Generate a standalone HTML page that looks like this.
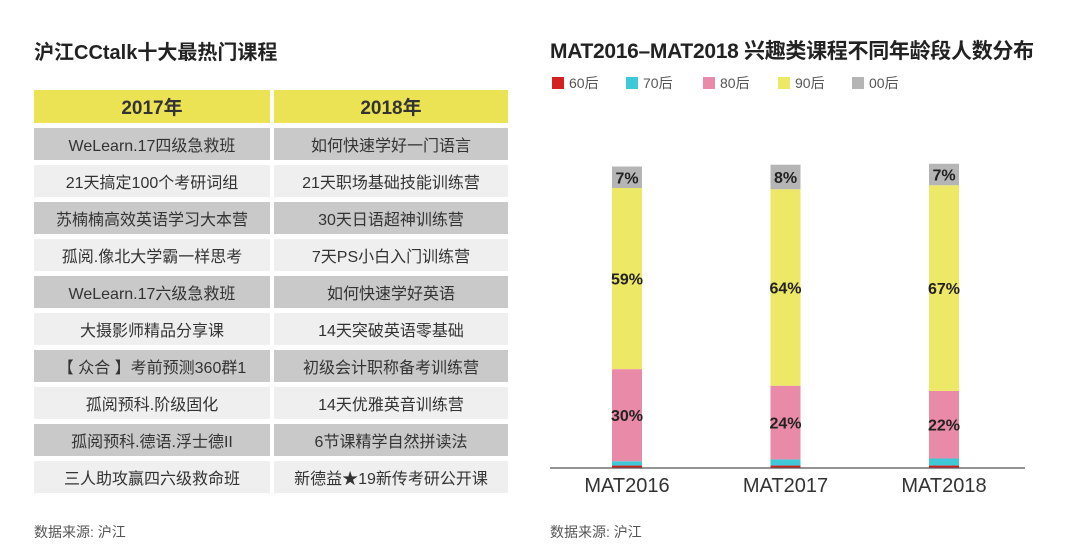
<!DOCTYPE html>
<html><head><meta charset="utf-8"><style>
body{margin:0;width:1080px;height:560px;background:#fff;font-family:"Liberation Sans","Noto Sans CJK SC",sans-serif;overflow:hidden;position:relative;color:#222}
.t{position:absolute;font-size:20px;font-weight:bold;white-space:nowrap}
.cell{position:absolute;display:flex;align-items:center;justify-content:center;font-size:16px;color:#333}
.src{position:absolute;font-size:14px;color:#555}
</style></head><body>
<div class="t" style="left:34px;top:36px">沪江CCtalk十大最热门课程</div>
<div class="t" style="left:550px;top:35px;font-size:21px;letter-spacing:-0.3px">MAT2016–MAT2018 兴趣类课程不同年龄段人数分布</div>
<div id="table"></div>
<div class="src" style="left:34px;top:522px">数据来源: 沪江</div>
<div class="src" style="left:550px;top:522px">数据来源: 沪江</div>
<svg id="chart" width="1080" height="560" style="position:absolute;left:0;top:0"></svg>
<script>
const col2017=["WeLearn.17四级急救班","21天搞定100个考研词组","苏楠楠高效英语学习大本营","孤阅.像北大学霸一样思考","WeLearn.17六级急救班","大摄影师精品分享课","【 众合 】考前预测360群1","孤阅预科.阶级固化","孤阅预科.德语.浮士德II","三人助攻赢四六级救命班"];
const col2018=["如何快速学好一门语言","21天职场基础技能训练营","30天日语超神训练营","7天PS小白入门训练营","如何快速学好英语","14天突破英语零基础","初级会计职称备考训练营","14天优雅英音训练营","6节课精学自然拼读法","新德益★19新传考研公开课"];
const tb=document.getElementById('table');
function cell(x,y,w,h,bg,txt,fs,fw){const d=document.createElement('div');d.className='cell';


d.style.cssText=`left:${x}px;top:${y}px;width:${w}px;height:${h}px;background:${bg};font-size:${fs}px;font-weight:${fw}`;d.textContent=txt;tb.appendChild(d);}
cell(34,90,236,33,'#ebe254','2017年',19,'bold');cell(274,90,234,33,'#ebe254','2018年',19,'bold');
for(let i=0;i<10;i++){const y=128+i*37,bg=i%2==0?'#c9c9c9':'#efefef';cell(34,y,236,32,bg,col2017[i],16,'normal');cell(274,y,234,32,bg,col2018[i],16,'normal');}

const categories=["MAT2016","MAT2017","MAT2018"];
const seriesNames=["60后","70后","80后","90后","00后"];
const colors=["#d42020","#3ec8d8","#e98aa8","#ede866","#b5b5b5"];
const s60=[0.8,0.8,0.8];
const s70=[1.4,2.0,2.3];
const s80=[30,24,22];
const s90=[59,64,67];
const s00=[7,8,7];
const labels80=["30%","24%","22%"],labels90=["59%","64%","67%"],labels00=["7%","8%","7%"];
const svg=document.getElementById('chart');const NS='http://www.w3.org/2000/svg';
function el(t,a){const e=document.createElementNS(NS,t);for(const k in a)e.setAttribute(k,a[k]);svg.appendChild(e);return e;}
const base=468,pxPer=3.07;
const y=v=>base-v*pxPer;
const xc=i=>627+i*158.5;
const series=[s60,s70,s80,s90,s00];const lbls=[null,null,labels80,labels90,labels00];
categories.forEach((c,i)=>{let acc=0;
 series.forEach((s,k)=>{const v=s[i];const r=el('rect',{x:xc(i)-15,y:y(acc+v),width:30,height:v*pxPer,fill:colors[k]});
 
 
 if(lbls[k]){const t=el('text',{x:xc(i),y:y(acc+v/2)+6,'text-anchor':'middle','font-size':16,'font-weight':'bold',fill:'#222'});t.textContent=lbls[k][i];
 
 }
 acc+=v;});
 const t=el('text',{x:xc(i),y:492,'text-anchor':'middle','font-size':20,fill:'#333'});t.textContent=c;
 
 
});
const ax=el('line',{x1:550,x2:1025,y1:468,y2:468,stroke:'#555','stroke-width':1.2});


const lx=[552,626,703,778,852];
seriesNames.forEach((n,k)=>{const r=el('rect',{x:lx[k],y:77,width:12,height:12,fill:colors[k]});
 
 
 const t=el('text',{x:lx[k]+17,y:88,'font-size':14,fill:'#555'});t.textContent=n;
 
 });
</script>
</body></html>
